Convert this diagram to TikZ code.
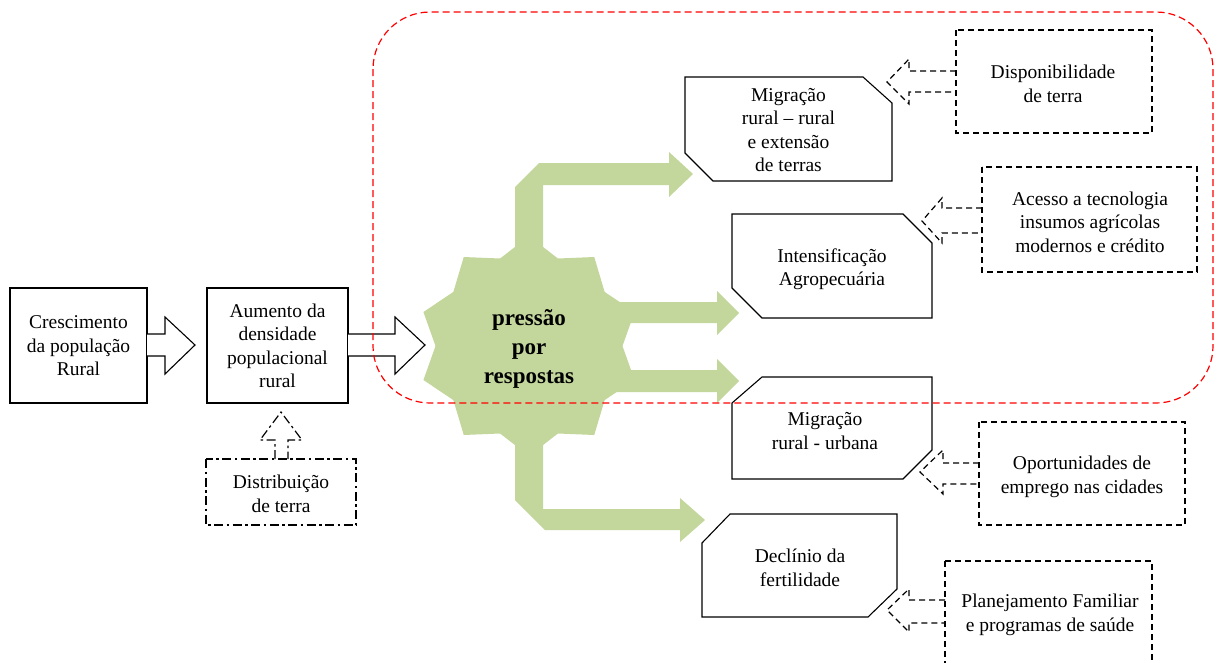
\documentclass[tikz,border=0pt]{standalone}
\usepackage{fontspec}
\setmainfont{Liberation Serif}
\definecolor{grn}{RGB}{195,214,155}
\tikzset{
  txt/.style={align=center, inner sep=0pt, font=\fontsize{19.5}{23.5}\selectfont},
  bigtxt/.style={align=center, inner sep=0pt, font=\fontsize{23}{29}\selectfont\bfseries},
  solidbox/.style={draw=black, fill=white, line width=1.1pt, line join=miter},
  dashbox/.style={draw=black, line width=1.2pt, dash pattern=on 6pt off 4pt},
  dashdotbox/.style={draw=black, line width=1.2pt, dash pattern=on 9pt off 3.5pt on 2.5pt off 3.5pt},
  greenarrow/.style={fill=grn, draw=none},
  redframe/.style={draw=red, line width=1.2pt, dash pattern=on 7pt off 4pt, rounded corners=57pt}
}
\begin{document}
\begin{tikzpicture}[x=1pt, y=-1pt]
\useasboundingbox (0,0) rectangle (1217,662);

% left boxes
\draw[solidbox] (10,288) rectangle (147,403);
\node[txt] (cresc) at (78.5,346) {Crescimento\\da população\\Rural};
\draw[solidbox] (207,288) rectangle (348,403);
\node[txt] (aum) at (277.5,346) {Aumento da\\densidade\\populacional\\rural};

% dash-dot box and up arrow
\draw[dashdotbox] (206,459) rectangle (356,525);
\node[txt] (dist) at (281,494) {Distribuição\\de terra};
\draw[dashdotbox] (275,459) -- (275,440) -- (260,440) -- (281,412) -- (302,440) -- (288,440) -- (288,459);

% green star
\fill[grn] (529+93.5,346)
  \foreach \k in {0,...,9} {
    -- ({529+111*cos(36*\k+18)},{346-110*sin(36*\k+18)})
    -- ({529+93.5*cos(36*\k+36)},{346-92*sin(36*\k+36)})
  } -- cycle;

% green arrows
\fill[greenarrow] (515,255) -- (515,187) -- (539,163) -- (669,163) -- (669,152) -- (693,174) -- (669,197) -- (669,185) -- (543,185) -- (543,255) -- cycle;
\fill[greenarrow] (600,302) -- (717,302) -- (717,291) -- (739,313) -- (717,335) -- (717,323) -- (600,323) -- cycle;
\fill[greenarrow] (600,370) -- (717,370) -- (717,359) -- (739,381) -- (717,403) -- (717,392) -- (600,392) -- cycle;
\fill[greenarrow] (515,435) -- (515,500) -- (545,530) -- (680,530) -- (680,542) -- (705,520) -- (680,498) -- (680,509) -- (543,509) -- (543,435) -- cycle;

\node[bigtxt] (press) at (529,349) {pressão\\por\\respostas};

% black block arrows
\draw[solidbox] (147,334) -- (165,334) -- (165,317) -- (195,345) -- (165,374) -- (165,356) -- (147,356);
\draw[solidbox] (348,334) -- (395,334) -- (395,317) -- (425,345) -- (395,374) -- (395,356) -- (348,356);

% snipped boxes
\draw[solidbox] (685,77) -- (863,77) -- (892,103) -- (892,181) -- (713,181) -- (685,153) -- cycle;
\node[txt] (mig1) at (788.5,130) {Migração\\rural – rural\\e extensão\\de terras};
\draw[solidbox] (732,214) -- (903,214) -- (932,243) -- (932,318) -- (762,318) -- (732,288) -- cycle;
\node[txt] (int) at (832,269) {Intensificação\\Agropecuária};
\draw[solidbox] (762,377) -- (932,377) -- (932,450) -- (903,479) -- (732,479) -- (732,403) -- cycle;
\node[txt] (mig2) at (825,431) {Migração\\rural - urbana};
\draw[solidbox] (730,514) -- (897,514) -- (897,589) -- (868,617) -- (702,617) -- (702,543) -- cycle;
\node[txt] (decl) at (800,568) {Declínio da\\fertilidade};

% dashed boxes
\draw[dashbox] (956,30) rectangle (1152,133);
\node[txt] (disp) at (1053,84) {Disponibilidade\\de terra};
\draw[dashbox] (956,71) -- (909,71) -- (909,59) -- (887,82) -- (909,104) -- (909,92) -- (956,92);

\draw[dashbox] (982,167) rectangle (1197,272);
\node[txt] (aces) at (1090,222) {Acesso a tecnologia\\insumos agrícolas\\modernos e crédito};
\draw[dashbox] (982,208) -- (942,208) -- (942,198) -- (922,221) -- (942,243) -- (942,233) -- (982,233);

\draw[dashbox] (979,422) rectangle (1185,525);
\node[txt] (opor) at (1082,477) {Oportunidades de\\emprego nas cidades};
\draw[dashbox] (979,463) -- (943,463) -- (943,450) -- (920,472) -- (943,494) -- (943,484) -- (979,484);

\draw[dashbox] (945,561) -- (945,675) (945,561) -- (1152,561) -- (1152,675);
\node[txt] (plan) at (1050,615) {Planejamento Familiar\\e programas de saúde};
\draw[dashbox] (945,600) -- (909,600) -- (909,589) -- (887,610) -- (909,632) -- (909,623) -- (945,623);

% red dashed frame
\draw[redframe] (373,12) rectangle (1213,403);
\end{tikzpicture}
\end{document}
